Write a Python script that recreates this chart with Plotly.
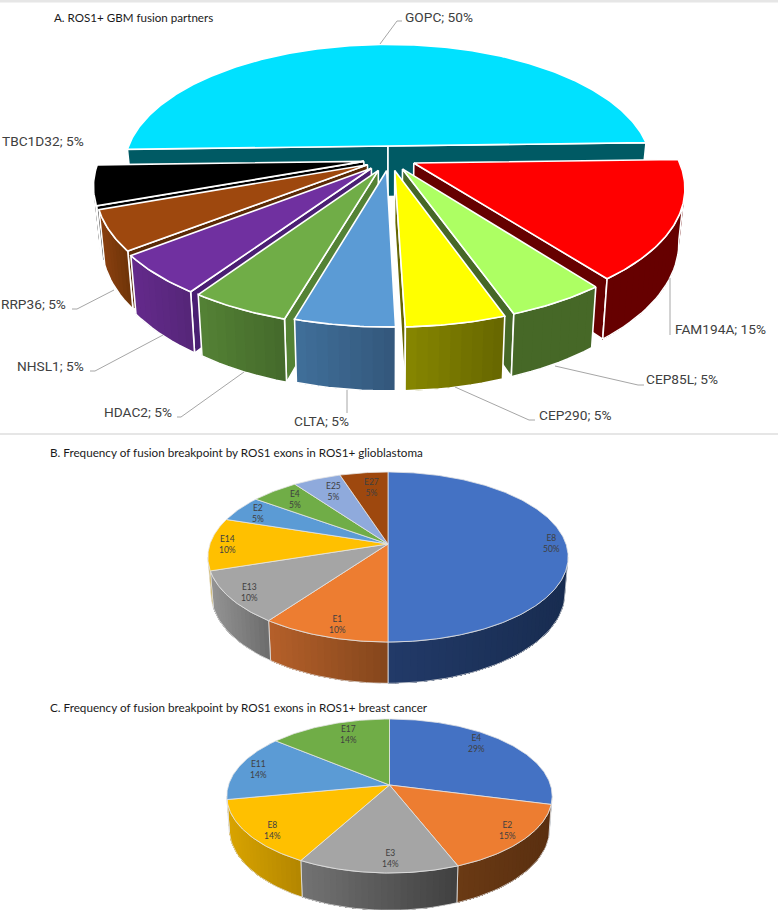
import numpy as np
import plotly.graph_objects as go

# Panel A: fusion partners
partners = ["GOPC", "FAM194A", "CEP85L", "CEP290", "CLTA", "HDAC2", "NHSL1", "RRP36", "TBC1D32"]
partner_pct = [50, 15, 5, 5, 5, 5, 5, 5, 5]

# Panel B: glioblastoma exons
gbm_exons = ["E8", "E1", "E13", "E14", "E2", "E4", "E25", "E27"]
gbm_pct = [50, 10, 10, 10, 5, 5, 5, 5]

# Panel C: breast cancer exons
breast_exons = ["E4", "E2", "E3", "E8", "E11", "E17"]
breast_pct = [29, 15, 14, 14, 14, 14]

titles = ["A. ROS1+ GBM fusion partners",
          "B. Frequency of fusion breakpoint by ROS1 exons in ROS1+ glioblastoma",
          "C. Frequency of fusion breakpoint by ROS1 exons in ROS1+ breast cancer"]

# styles: (top colour, wall colour left, wall colour right, cut face colour)
A_COLORS = [("#00e1ff", "#005a64", "#005a64", "#005a64"),
            ("#ff0000", "#660000", "#660000", "#660000"),
            ("#adff63", "#466827", "#466827", "#466827"),
            ("#ffff00", "#878700", "#666600", "#666600"),
            ("#5b9bd5", "#406f9a", "#33577b", "#33577b"),
            ("#70ad47", "#548235", "#44692b", "#548235"),
            ("#7030a0", "#642a8c", "#552678", "#4a1f73"),
            ("#9e480e", "#8a4010", "#6f3408", "#5a2a06"),
            ("#000000", "#000000", "#000000", "#000000")]
B_COLORS = [("#4472c4", "#223a68", "#182c50", None),
            ("#ed7d31", "#b5602a", "#84461c", None),
            ("#a5a5a5", "#949494", "#6c6c6c", None),
            ("#ffc000", "#d9a400", "#b38600", None),
            ("#5b9bd5", "#406f9a", "#33577b", None),
            ("#70ad47", "#548235", "#44692b", None),
            ("#8faadc", "#6a80a8", "#556a90", None),
            ("#9e480e", "#8a4010", "#6f3408", None)]
C_COLORS = [("#4472c4", "#223a68", "#182c50", None),
            ("#ed7d31", "#6a3a14", "#5a2f10", None),
            ("#a5a5a5", "#737373", "#404040", None),
            ("#ffc000", "#d9a400", "#b38600", None),
            ("#5b9bd5", "#406f9a", "#33577b", None),
            ("#70ad47", "#548235", "#44692b", None)]

# slice offsets of the exploded pie, in disc units
A_PULL = [(0, .163), (.097, .024), (.054, -.023), (.025, -.035), (-.005, -.035),
          (-.036, -.034), (-.062, -.018), (-.077, .01), (-.091, .037)]
A_ORDER = [0, 1, 2, 3, 8, 7, 6, 5, 4]

A_LABEL_POS = [(403, 17, "left"), (673, 329, "left"), (644, 379, "left"), (537, 415, "left"),
               (321, 421, "center"), (174, 412, "right"), (86, 366, "right"), (68, 304, "right"),
               (86, 141, "right")]
A_LEADERS = [[(380, 44), (397, 21), (402, 21)], [(670, 278), (670, 335)],
             [(555, 366), (638, 385), (644, 385)], [(455, 387), (529, 420), (535, 420)],
             [(347, 390), (347, 413)], [(244, 372), (181, 417), (177, 417)],
             [(163, 335), (95, 371), (90, 371)], [(114, 290), (77, 309), (72, 309)]]
B_LABEL_POS = [(551, 543), (337, 624), (249, 592), (227, 544), (258, 513), (295, 499), (333, 491), (371, 487)]
C_LABEL_POS = [(476, 743), (507, 830), (390, 858), (272, 830), (258, 769), (348, 734)]

LABEL_FONT = "Roboto"
TITLE_FONT = "Lato"
fig = go.Figure()


def poly(xs, ys, fill=None, line="white", width=1.0):
    fig.add_trace(go.Scatter(x=xs, y=ys, mode="lines", fill="toself" if fill else None,
                             fillcolor=fill, line=dict(color=line, width=width),
                             hoverinfo="skip", showlegend=False))


def mix(c1, c2, t):
    a = [int(c1[i:i + 2], 16) for i in (1, 3, 5)]
    b = [int(c2[i:i + 2], 16) for i in (1, 3, 5)]
    return "rgb(%d,%d,%d)" % tuple(round(p + (q - p) * t) for p, q in zip(a, b))


def draw_pie(values, colors, geo, pulls=None, order=None, start=0.0, edge="white", edge_w=1.0):
    cx, cy, R, H, k, depth, shrink = geo
    total = sum(values)
    bounds = start + np.concatenate([[0], np.cumsum(values)]) * 360.0 / total
    pulls = pulls or [(0, 0)] * len(values)
    order = order if order is not None else range(len(values))
    # the rim turns away from the viewer a little below the middle of the disc
    turn = np.degrees(np.arcsin(k))

    def project(X, Y):
        return cx + R * X / (1 + k * Y), cy - H * Y / (1 + k * Y)

    def lower(X, Y):
        x, y = project(X, Y)
        return cx + (x - cx) * shrink, y + depth / (1 + k * Y)

    for i in order:
        a0, a1 = bounds[i], bounds[i + 1]
        px, py = pulls[i]
        top_col, wall_l, wall_r, face_col = colors[i]
        th = np.radians(np.linspace(a0, a1, max(12, int((a1 - a0) * 1.5))))
        X = np.sin(th) + px
        Y = np.cos(th) + py

        # cut faces, only the ones turned towards the viewer
        if face_col:
            ax, ay = project(px, py)
            mid = np.radians((a0 + a1) / 2)
            gx, gy = project(np.sin(mid) * .6 + px, np.cos(mid) * .6 + py)
            for rim in (0, -1):
                rx, ry = project(X[rim], Y[rim])
                if abs(rx - ax) < 1e-6 or gy < ay + (ry - ay) * (gx - ax) / (rx - ax):
                    lax, lay = lower(px, py)
                    lrx, lry = lower(X[rim], Y[rim])
                    poly([ax, rx, lrx, lax, ax], [ay, ry, lry, lay, ay], face_col, edge, edge_w)

        # outer wall, only the front of the rim, shaded left to right
        lo, hi = max(a0, 90 + turn), min(a1, 270 - turn)
        if a0 < -90:
            lo, hi = 90, 90
        if hi > lo:
            steps = max(2, int((hi - lo) / 2))
            wth = np.radians(np.linspace(lo, hi, steps + 1))
            WX = np.sin(wth) + px
            WY = np.cos(wth) + py
            tx, ty = project(WX, WY)
            bx, by = lower(WX, WY)
            x_min, x_max = tx.min(), tx.max()
            # painted over each other, so no seams between the steps
            for s in range(steps):
                t = ((tx[s] + tx[s + 1]) / 2 - x_min) / max(x_max - x_min, 1)
                col = mix(wall_l, wall_r, t)
                poly(list(tx[s:]) + list(bx[s:][::-1]) + [tx[s]],
                     list(ty[s:]) + list(by[s:][::-1]) + [ty[s]], col, col, 0)
            poly(list(tx) + list(bx[::-1]) + [tx[0]], list(ty) + list(by[::-1]) + [ty[0]],
                 None, edge, edge_w)

        # top face
        ax, ay = project(px, py)
        tx, ty = project(X, Y)
        poly([ax] + list(tx) + [ax], [ay] + list(ty) + [ay], top_col, edge, edge_w)


# separators
poly([0, 778], [1, 1], None, "#e6e6e6", 3)
poly([0, 778], [434, 434], None, "#e6e6e6", 2)

# cx, cy, R, H, perspective, depth, shrink of lower rim
draw_pie(partner_pct, A_COLORS, (388, 166, 267, 126.5, .18, 52, .98),
         pulls=A_PULL, order=A_ORDER, start=-91.6, edge="white", edge_w=1.6)
draw_pie(gbm_pct, B_COLORS, (388, 544, 178, 83, .153, 35, .983), edge="#e4e4e4", edge_w=0.8)
draw_pie(breast_pct, C_COLORS, (389.5, 785, 161, 75.4, .143, 32, .985), edge="#e4e4e4", edge_w=0.8)

# leader lines of panel A
for pts in A_LEADERS:
    poly([p[0] for p in pts], [p[1] for p in pts], None, "#a6a6a6", 1)


def add_text(x, y, text, size, color, anchor="left", family=LABEL_FONT):
    fig.add_annotation(x=x, y=y, text=text, showarrow=False, xanchor=anchor, yanchor="middle",
                       font=dict(family=family, size=size, color=color))


for name, pct, (x, y, anchor) in zip(partners, partner_pct, A_LABEL_POS):
    add_text(x, y, f"{name}; {pct}%", 13.7, "#404040", anchor)
for name, pct, (x, y) in zip(gbm_exons, gbm_pct, B_LABEL_POS):
    add_text(x, y, f"{name}<br>{pct}%", 8.5, "#404040", "center", TITLE_FONT)
for name, pct, (x, y) in zip(breast_exons, breast_pct, C_LABEL_POS):
    add_text(x, y, f"{name}<br>{pct}%", 8.5, "#404040", "center", TITLE_FONT)

add_text(52, 17, titles[0], 11.6, "#1a1a1a", family=TITLE_FONT)
add_text(48, 452, titles[1], 11.7, "#1a1a1a", family=TITLE_FONT)
add_text(48, 707, titles[2], 11.7, "#1a1a1a", family=TITLE_FONT)

fig.update_layout(width=778, height=910, margin=dict(l=0, r=0, t=0, b=0),
                  paper_bgcolor="white", plot_bgcolor="white", showlegend=False,
                  xaxis=dict(range=[0, 778], visible=False, fixedrange=True),
                  yaxis=dict(range=[910, 0], visible=False, fixedrange=True))

fig.write_html("out.html", config=dict(displayModeBar=False),
               post_script="document.body.style.margin='0';")
